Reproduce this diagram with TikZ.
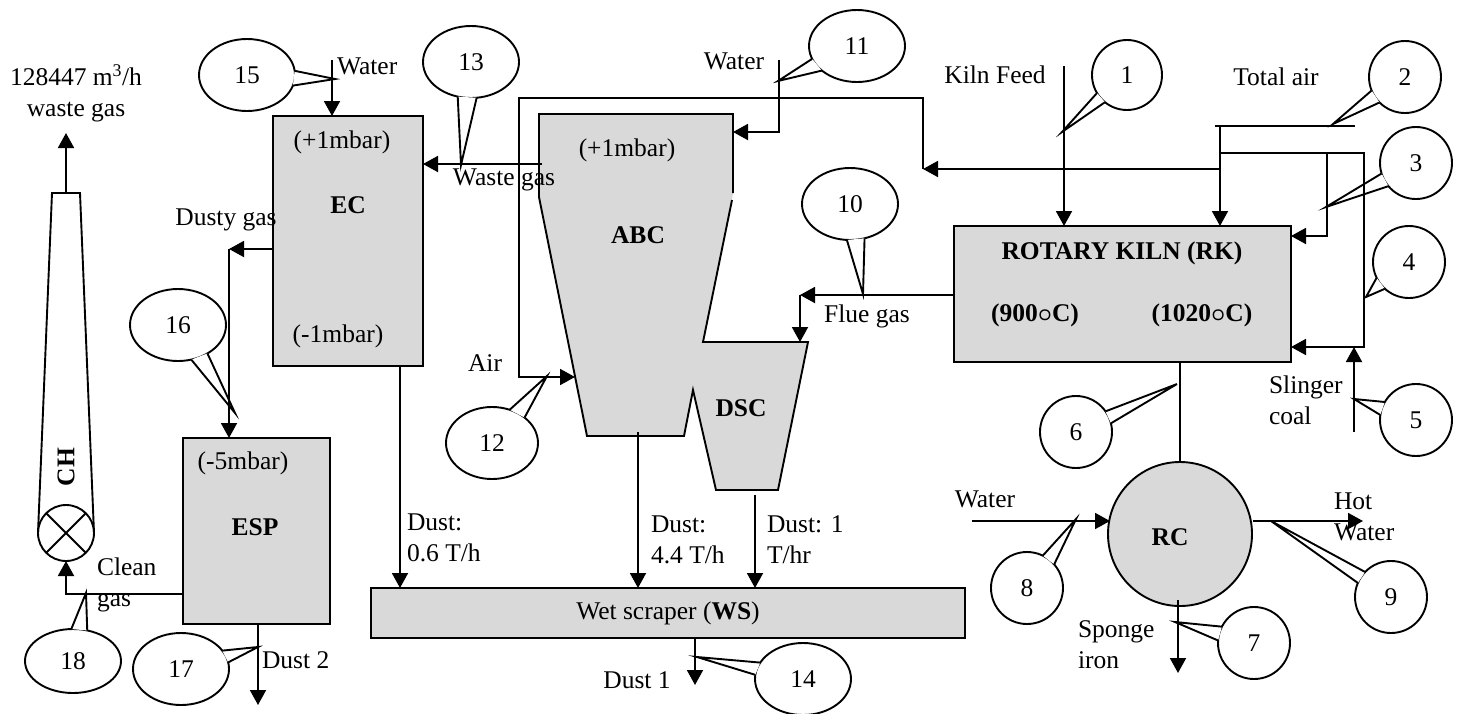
\documentclass[tikz,border=0pt]{standalone}
\usepackage{fontspec}
\setmainfont{Liberation Serif}
\usetikzlibrary{arrows.meta,shapes.geometric}
\definecolor{boxgray}{RGB}{217,217,217}
\newcommand\callout[9]{%
  \node[callnode,minimum width=#4pt,minimum height=#5pt] (#1) at (#2,#3) {#9};
  \fill[white] (#1.#6) -- (#8) -- (#1.#7) -- cycle;
  \draw (#1.#6) -- (#8) -- (#1.#7);
}
\newcommand\dgc{{\boldmath$\circ$}}
\begin{document}
\begin{tikzpicture}[x=1pt,y=-1pt,line width=1.9pt,
  font=\fontsize{25.5}{31}\selectfont,
  every node/.style={inner sep=0pt,outer sep=0pt},
  box/.style={draw,fill=boxgray,rectangle},
  arr/.style={-{Triangle[length=15pt,width=16pt]}},
  callnode/.style={draw,ellipse,fill=white},
  labl/.style={align=left,anchor=west},
  bf/.style={font=\fontsize{25.5}{31}\selectfont\bfseries}]
\useasboundingbox (0,0) rectangle (1460,713);

% ---------- equipment ----------
\node[box,minimum width=150pt,minimum height=250pt] (EC) at (348,241) {};
\node[box,minimum width=147pt,minimum height=186pt] (ESP) at (256.5,531) {};
\node[box,minimum width=594pt,minimum height=50pt] (WS) at (668,613) {Wet scraper (\textbf{WS})};
\node[box,minimum width=337pt,minimum height=136pt] (RK) at (1122.5,294) {};
\node[box,circle,minimum size=144pt] (RC) at (1180,534) {};

% ABC + DSC outline
\coordinate (a1) at (539,114);
\coordinate (a2) at (733,114);
\coordinate (a3) at (733,193);
\coordinate (a4) at (732,200);
\coordinate (a5) at (703,342);
\coordinate (a6) at (808,342);
\coordinate (a7) at (778,490);
\coordinate (a8) at (716,490);
\coordinate (a9) at (693,390);
\coordinate (a10) at (684,436);
\coordinate (a11) at (587,436);
\coordinate (a12) at (539,197);
\fill[boxgray] (a1) -- (a2) -- (a3) -- (a4) -- (a5) -- (a6) -- (a7) -- (a8) -- (a9) -- (a10) -- (a11) -- (a12) -- cycle;
\draw[line join=miter] (a3) -- (a2) -- (a1) -- (a12) -- (a11) -- (a10) -- (a9) -- (a8) -- (a7) -- (a6) -- (a5) -- (a4);

% chimney
\node[circle,draw,minimum size=56pt] (CHc) at (66,533) {};
\draw (CHc.45) -- (CHc.225) (CHc.135) -- (CHc.315);
\coordinate (chtl) at (52,193);
\coordinate (chtr) at (80,193);
\draw (CHc.west) -- (chtl) -- (chtr) -- (CHc.east);

% ---------- callouts ----------
\coordinate (t1) at (1062,132);
\coordinate (t2) at (1333,124);
\coordinate (t3) at (1326,207);
\coordinate (t4) at (1366,297);
\coordinate (t5) at (1354,399);
\coordinate (t6) at (1177,384);
\coordinate (t7) at (1175,622);
\coordinate (t8) at (1076,519);
\coordinate (t9) at (1271,521);
\coordinate (t10) at (863,294);
\coordinate (t11) at (778,81);
\coordinate (t12) at (547,376);
\coordinate (t13) at (461,165);
\coordinate (t14) at (697,657);
\coordinate (t15) at (335,79);
\coordinate (t16) at (235,413);
\coordinate (t17) at (258,647);
\coordinate (t18) at (86,593);
\callout{c1}{1127}{75}{70}{70}{211.5}{231.6}{t1}{1}
\callout{c2}{1405}{77}{72}{72}{202}{225}{t2}{2}
\callout{c3}{1416}{163}{72}{72}{197}{220}{t3}{3}
\callout{c4}{1409}{262}{72}{72}{206.6}{228.4}{t4}{4}
\callout{c5}{1416}{420}{72}{72}{150}{172}{t5}{5}
\callout{c6}{1076}{432}{72}{72}{35.9}{14.8}{t6}{6}
\callout{c7}{1254}{643}{72}{72}{153.4}{176.8}{t7}{7}
\callout{c8}{1027}{588}{72}{72}{64.1}{41.8}{t8}{8}
\callout{c9}{1391}{597}{72}{72}{136.1}{157.6}{t9}{9}
\callout{c10}{850}{204}{96}{72}{265.4}{293.2}{t10}{10}
\callout{c11}{857}{46}{96}{72}{196.1}{215.5}{t11}{11}
\callout{c12}{492}{443}{92}{72}{62}{38.9}{t12}{12}
\callout{c13}{471}{62}{96}{72}{249.6}{279.7}{t13}{13}
\callout{c14}{803}{679}{96}{72}{159.6}{175.2}{t14}{14}
\callout{c15}{247}{75}{96}{72}{5}{347.7}{t15}{15}
\callout{c16}{178}{325}{96}{72}{291.8}{316}{t16}{16}
\callout{c17}{181}{669}{96}{72}{24.9}{8.3}{t17}{17}
\callout{c18}{73}{661}{96}{64}{93.5}{65.6}{t18}{18}

% ---------- connectors ----------
% kiln feed
\coordinate (kf) at (1064,66);
\draw[arr] (kf) -- (kf |- RK.north);
% total air
\coordinate (ta0) at (1215,126);
\coordinate (ta1) at (1355,126);
\coordinate (taj) at (1220,126);
\draw (ta0) -- (ta1);
\draw[arr] (taj) -- (taj |- RK.north);
\coordinate (br0) at (1220,153);
\coordinate (br3) at (1327,153);
\coordinate (br4) at (1364,153);
\coordinate (k4) at (1364,347);
\coordinate (k3) at (1327,236);
\draw[arr] (br0) -- (br4) -- (k4) -- (k4 -| RK.east);
\draw[arr] (br3) -- (k3) -- (k3 -| RK.east);
% slinger coal
\coordinate (sc) at (1354,432);
\draw[arr] (sc) -- (sc |- k4);
% air loop to ABC
\coordinate (ar0) at (1220,169);
\coordinate (ar1) at (923,169);
\coordinate (ar2) at (923,98);
\coordinate (ar3) at (519,98);
\coordinate (ar4) at (519,377);
\coordinate (ar5) at (575,377);
\draw[arr] (ar0) -- (ar1);
\draw[arr] (ar1) -- (ar2) -- (ar3) -- (ar4) -- (ar5);
% water to ABC
\coordinate (w11) at (779,60);
\coordinate (w11b) at (779,132);
\draw[arr] (w11) -- (w11b) -- (w11b -| a2);
% waste gas ABC -> EC
\coordinate (wg) at (542,164);
\draw[arr] (wg) -- (wg -| EC.east);
% water to EC
\coordinate (w15) at (332,60);
\draw[arr] (w15) -- (w15 |- EC.north);
% dusty gas EC -> ESP
\coordinate (dg) at (229,249);
\draw[arr] (dg -| EC.west) -- (dg);
\draw[arr] (dg) -- (dg |- ESP.north);
% clean gas ESP -> CH
\coordinate (cg) at (66,594);
\draw[arr] (cg -| ESP.west) -- (cg) -- (CHc.south);
% chimney outlet
\coordinate (cht) at (66,193);
\coordinate (chu) at (66,133);
\draw[arr] (cht) -- (chu);
% dust 2
\coordinate (d2) at (258,705);
\draw[arr] (d2 |- ESP.south) -- (d2);
% dusts to WS
\coordinate (ecd) at (400,366);
\draw[arr] (ecd) -- (ecd |- WS.north);
\coordinate (abd) at (638,432);
\draw[arr] (abd) -- (abd |- WS.north);
\coordinate (dsd) at (755,495);
\draw[arr] (dsd) -- (dsd |- WS.north);
\coordinate (d1) at (695,685);
\draw[arr] (d1 |- WS.south) -- (d1);
% flue gas RK -> DSC
\coordinate (fg) at (800,295);
\coordinate (fgd) at (800,342);
\draw[arr] (fg -| RK.west) -- (fg);
\draw[arr] (fg) -- (fgd);
% RK -> RC
\draw (RC.north |- RK.south) -- (RC.north);
% RC water
\coordinate (wrc) at (972,521);
\coordinate (wrce) at (1110,521);
\draw[arr] (wrc) -- (wrce);
\coordinate (hw0) at (1253,521);
\coordinate (hw) at (1363,521);
\draw[arr] (hw0) -- (hw);
\coordinate (sp0) at (1178,600);
\coordinate (sp) at (1178,673);
\draw[arr] (sp0) -- (sp);

% ---------- labels ----------
\node[align=center] (lwg0) at (76,93) {128447 m\textsuperscript{3}/h\\waste gas};
\node[rotate=90,bf] (lch) at (66,467) {CH};
\node[anchor=west] (lw15) at (337,66) {Water};
\node (lec1) at (342,142) {(+1mbar)};
\node[bf] (lec) at (348,205) {EC};
\node (lec2) at (338,336) {(-1mbar)};
\node (lwg) at (504,180) {Waste gas};
\node (ldg) at (226,220) {Dusty gas};
\node (lesp1) at (243,463) {(-5mbar)};
\node[bf] (lesp) at (255,527) {ESP};
\node[labl] (lcg) at (97,585) {Clean\\gas};
\node[anchor=west] (ld2) at (262,660) {Dust 2};
\node[labl] (lde) at (407,538) {Dust:\\0.6 T/h};
\node[labl] (lda) at (651,540) {Dust:\\4.4 T/h};
\node[labl] (ldd) at (767,540) {Dust: 1\\T/hr};
\node (ld1) at (637,680) {Dust 1};
\node (labc1) at (627,150) {(+1mbar)};
\node[bf] (labc) at (638,235) {ABC};
\node[bf] (ldsc) at (741,408) {DSC};
\node (lair) at (485,363) {Air};
\node (lw11) at (734,61) {Water};
\node (lfg) at (867,316) {Flue gas};
\node (lkf) at (995,75) {Kiln Feed};
\node (lta) at (1276,77) {Total air};
\node[bf] (lrk) at (1122,253) {ROTARY KILN (RK)};
\node[bf] (lt1) at (1035,315) {(900\dgc C)};
\node[bf] (lt2) at (1202,315) {(1020\dgc C)};
\node[labl] (lsc) at (1269,400) {Slinger\\coal};
\node (lw8) at (985,499) {Water};
\node[bf] (lrc) at (1170,537) {RC};
\node[labl] (lhw) at (1334,517) {Hot\\Water};
\node[labl] (lsp) at (1078,645) {Sponge\\iron};
\end{tikzpicture}
\end{document}
